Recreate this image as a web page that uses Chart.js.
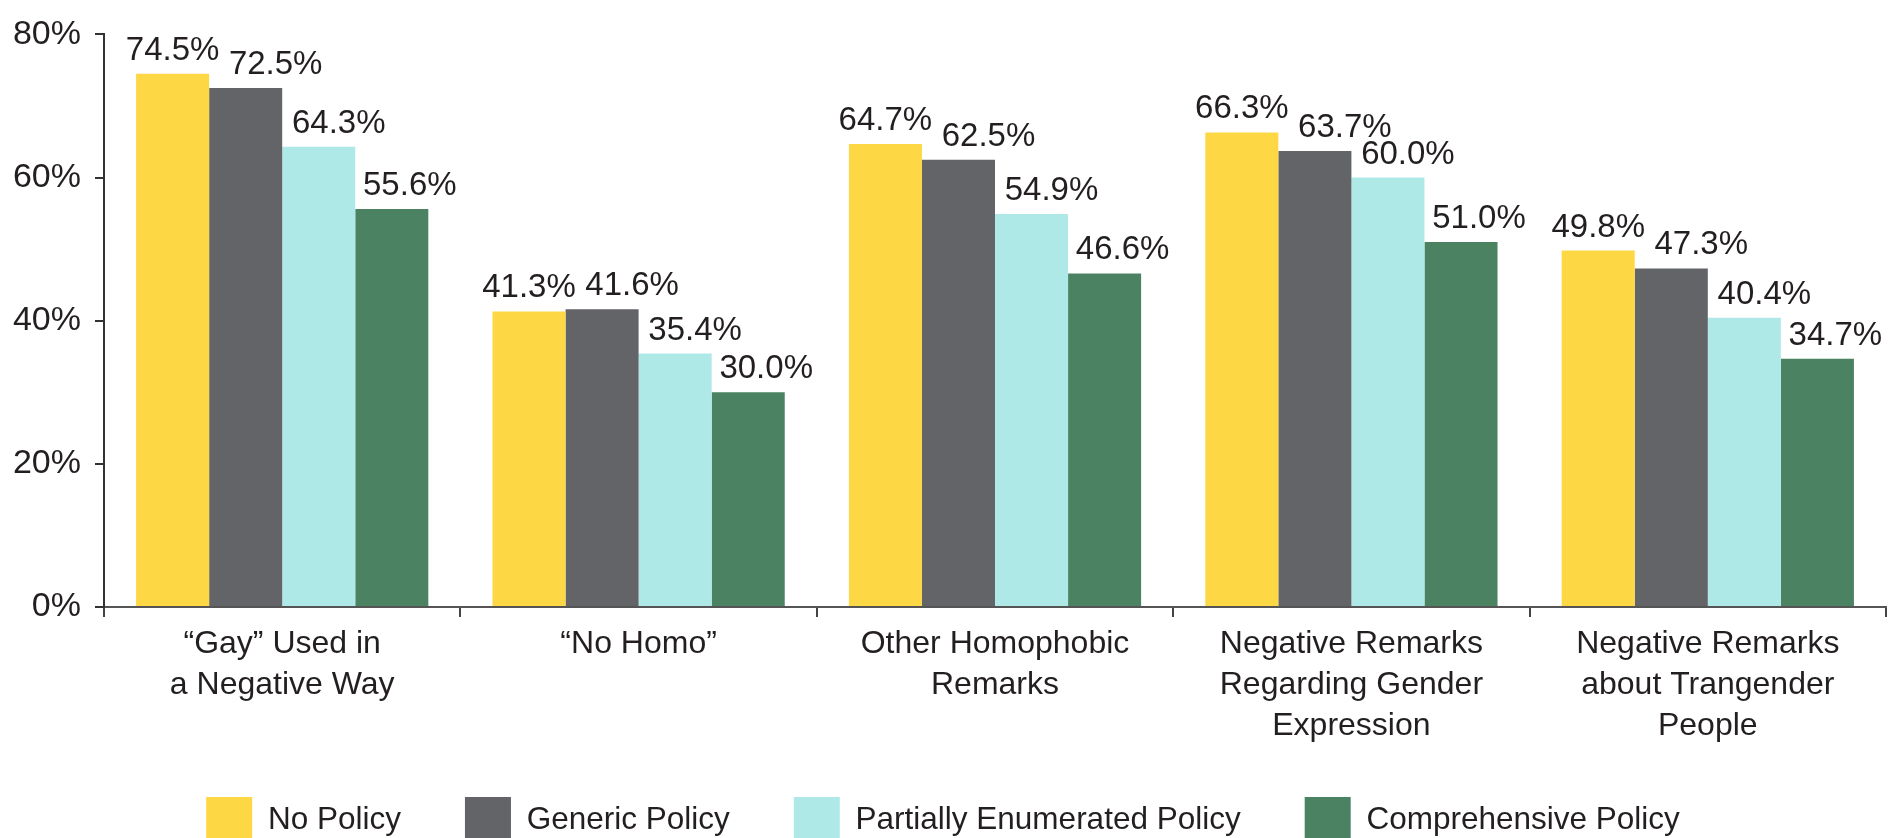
<!DOCTYPE html>
<html>
<head>
<meta charset="utf-8">
<script src="https://cdn.jsdelivr.net/npm/chart.js@4"></script>
<style>
html,body{margin:0;padding:0;background:#fff;overflow:hidden;}
#wrap{width:1890px;height:838px;overflow:hidden;}
</style>
</head>
<body>
<div id="wrap"><canvas id="chart" width="1890" height="877"></canvas></div>
<script>
/* DATA */

const categories = [
["“Gay” Used in","a Negative Way"],
["“No Homo”"],
["Other Homophobic","Remarks"],
["Negative Remarks","Regarding Gender","Expression"],
["Negative Remarks","about Trangender","People"]
];

const seriesNames = ["No Policy","Generic Policy","Partially Enumerated Policy","Comprehensive Policy"];

const noPolicy = [74.5,41.3,64.7,66.3,49.8];
const genericPolicy = [72.5,41.6,62.5,63.7,47.3];
const partialPolicy = [64.3,35.4,54.9,60.0,40.4];
const comprehensivePolicy = [55.6,30.0,46.6,51.0,34.7];

const yTicks = [0,20,40,60,80];

const colors = ["#fdd844","#636467","#aee9e8","#4a8262"];
const labelShift = [0,30,20,18];

const font = "'Liberation Sans', Arial, sans-serif";
const ink = "#231f20";


/* VALUE LABELS */

const valueLabels = {
id:"valueLabels",
afterDatasetsDraw(chart){
const ctx = chart.ctx;
ctx.save();
ctx.font = "33px "+font;
ctx.fillStyle = ink;
ctx.textAlign = "center";
ctx.textBaseline = "alphabetic";
chart.data.datasets.forEach((ds,di)=>{
chart.getDatasetMeta(di).data.forEach((bar,i)=>{
ctx.fillText(ds.data[i].toFixed(1)+"%", bar.x+labelShift[di], bar.y-14);
});
});
ctx.restore();
}
};

/* pull the legend up a bit so it sits under the labels like the original */
const legendLift = {
id:"legendLift",
afterLayout(chart){
chart.legend.top -= 24;
chart.legend.bottom -= 24;
}
};


/* CHART */

const all = [noPolicy,genericPolicy,partialPolicy,comprehensivePolicy];

new Chart(document.getElementById("chart"),{
type:"bar",
data:{
labels:categories,
datasets:all.map((d,i)=>({
label:seriesNames[i],
data:d,
backgroundColor:colors[i],
borderWidth:0,
categoryPercentage:0.82,
barPercentage:1
}))
},
options:{
responsive:false,
animation:false,
layout:{padding:{top:25,right:4,left:0,bottom:0}},
plugins:{
legend:{
position:"bottom",
labels:{
boxWidth:46,
boxHeight:46,
padding:64,
color:ink,
font:{family:font,size:31.5}
}
},
tooltip:{enabled:false}
},
scales:{
x:{
grid:{display:true,drawOnChartArea:false,offset:true,tickLength:10,color:"#444",lineWidth:2},
border:{display:true,color:"#555",width:2},
ticks:{color:ink,padding:7,maxRotation:0,autoSkip:false,font:{family:font,size:32,lineHeight:41/32}},
afterFit(scale){scale.height=150;}
},
y:{
min:0,
max:80,
afterBuildTicks(scale){scale.ticks=yTicks.map(v=>({value:v}));},
grid:{display:true,drawOnChartArea:false,tickLength:9,color:"#333",lineWidth:2},
border:{display:true,color:"#333",width:2},
ticks:{color:ink,padding:14,font:{family:font,size:34},callback:v=>v+"%"},
afterFit(scale){scale.width=104;}
}
}
},
plugins:[valueLabels,legendLift]
});
</script>
</body>
</html>
